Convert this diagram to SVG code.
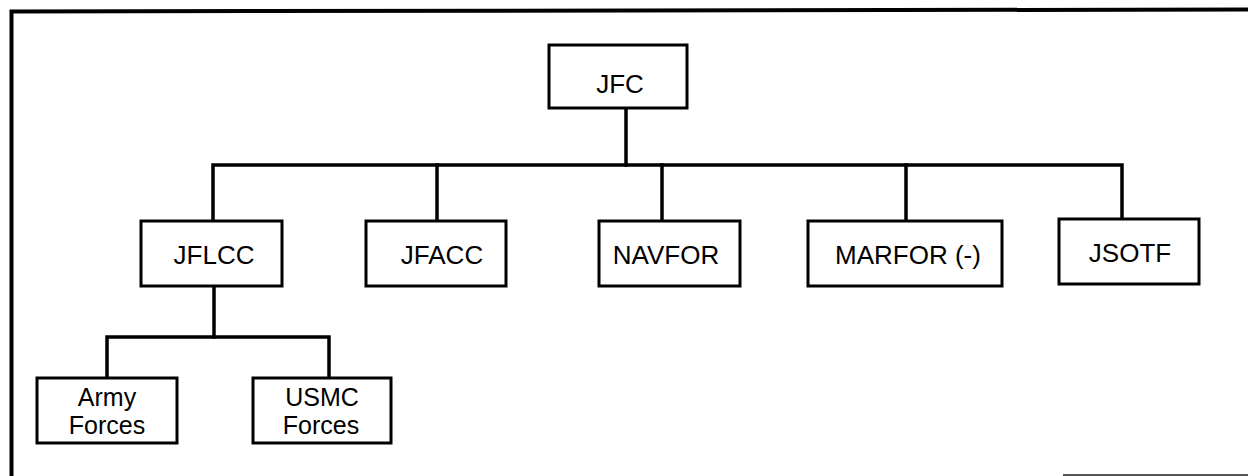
<svg xmlns="http://www.w3.org/2000/svg" width="1248" height="476" viewBox="0 0 1248 476">
<style>
.box{fill:#fff;stroke:#000;stroke-width:3}
.lbl{font-family:"Liberation Sans",Arial,sans-serif;font-size:26px;fill:#000;text-anchor:middle}
.sm{font-size:25px}
.ln{fill:none;stroke:#000;stroke-width:3.5;stroke-linecap:square}
</style>
<rect width="1248" height="476" fill="#fff"/>
<g id="frame">
<path d="M11.5 476 L11.5 11.5 L1248 9.5" fill="none" stroke="#000" stroke-width="4"/>
<path d="M1063 475 L1248 475" fill="none" stroke="#555" stroke-width="2"/>
</g>
<g id="connectors">
<path class="ln" d="M626 108 V165"/>
<path class="ln" d="M213 221 V165 H1122 V219"/>
<path class="ln" d="M437 165 V221"/>
<path class="ln" d="M662 165 V221"/>
<path class="ln" d="M906 165 V221"/>
<path class="ln" d="M214 286 V337"/>
<path class="ln" d="M107 378 V337 H329 V378"/>
</g>
<g id="JFC"><rect class="box" x="549" y="45" width="138" height="63"/><text class="lbl" x="620" y="93">JFC</text></g>
<g id="JFLCC"><rect class="box" x="141" y="221" width="141" height="65"/><text class="lbl" x="214" y="264">JFLCC</text></g>
<g id="JFACC"><rect class="box" x="366" y="221" width="140" height="65"/><text class="lbl" x="442" y="264">JFACC</text></g>
<g id="NAVFOR"><rect class="box" x="599" y="221" width="141" height="65"/><text class="lbl" x="666" y="264">NAVFOR</text></g>
<g id="MARFOR"><rect class="box" x="808" y="221" width="194" height="65"/><text class="lbl" x="908" y="264">MARFOR (-)</text></g>
<g id="JSOTF"><rect class="box" x="1059" y="219" width="140" height="65"/><text class="lbl" x="1130" y="262">JSOTF</text></g>
<g id="ArmyForces"><rect class="box" x="37" y="378" width="140" height="65"/><text class="lbl sm" x="107" y="406">Army</text><text class="lbl sm" x="107" y="434">Forces</text></g>
<g id="USMCForces"><rect class="box" x="253" y="378" width="138" height="65"/><text class="lbl sm" x="322" y="406">USMC</text><text class="lbl sm" x="321" y="434">Forces</text></g>
</svg>
